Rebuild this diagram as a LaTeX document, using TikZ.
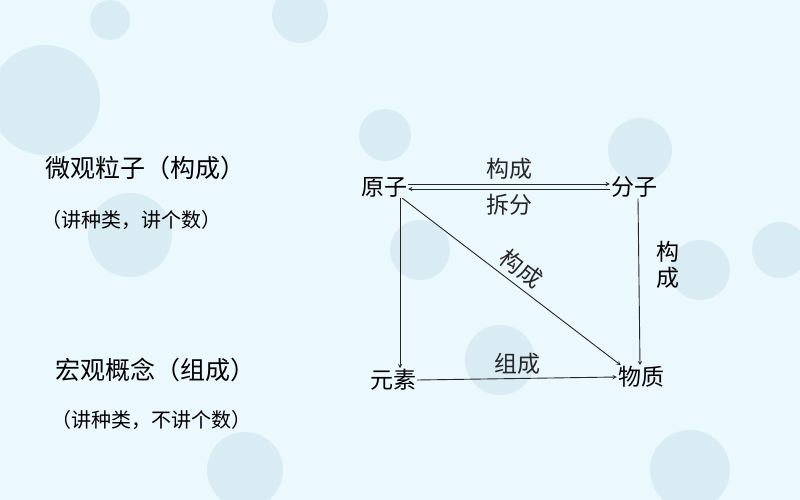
\documentclass[tikz,border=0pt]{standalone}
\usepackage{fontspec}
\setmainfont{Noto Sans CJK SC}
\begin{document}
\begin{tikzpicture}[x=1pt,y=-1pt,
 lab/.style={font=\fontsize{23}{26}\selectfont,inner sep=1pt},
 side/.style={font=\fontsize{25}{28}\selectfont,anchor=west},
 sub/.style={font=\fontsize{20}{23}\selectfont,anchor=west},
 arr/.style={-stealth,line width=0.9pt,black!85},
 bub/.style={fill=cyan!30!teal!25,opacity=0.45}]
\fill[cyan!8!white] (0,0) rectangle (800,500);
\useasboundingbox (0,0) rectangle (800,500);
\fill[bub] (45,100) circle (55);
\fill[bub] (130,235) circle (42);
\fill[bub] (385,135) circle (26);
\fill[bub] (300,15) circle (28);
\fill[bub] (640,150) circle (32);
\fill[bub] (420,250) circle (30);
\fill[bub] (700,270) circle (30);
\fill[bub] (780,250) circle (28);
\fill[bub] (500,360) circle (35);
\fill[bub] (245,470) circle (38);
\fill[bub] (690,470) circle (40);
\fill[bub] (110,20) circle (20);
\node[side] (t1) at (42,168) {微观粒子（构成）};
\node[sub] (t2) at (38,220) {（讲种类，讲个数）};
\node[side] (t3) at (52,370) {宏观概念（组成）};
\node[sub] (t4) at (48,420) {（讲种类，不讲个数）};
\node[lab] (yz) at (384,187) {原子};
\node[lab] (fz) at (634,187) {分子};
\node[lab] (ys) at (393,380) {元素};
\node[lab] (wz) at (641,377) {物质};
\draw[arr] ([yshift=3pt]yz.east) -- ([yshift=3pt]fz.west) node[midway,above=3pt,lab]{构成};
\draw[arr] ([yshift=-2pt]fz.west) -- ([yshift=-2pt]yz.east) node[midway,below=4pt,lab]{拆分};
\draw[arr] ([xshift=16pt]yz.south) -- ([xshift=7pt]ys.north);
\draw[arr] ([xshift=4pt]fz.south) -- ([xshift=-1pt]wz.north);
\node[lab,align=center] (gc) at (668,265) {构\\成};
\draw[arr] ([xshift=-6pt]yz.south east) -- ([xshift=4pt]wz.north west) node[pos=0.5,sloped,above=4pt,lab]{构成};
\draw[arr] (ys.east) -- (wz.west) node[midway,above=3pt,lab]{组成};
\end{tikzpicture}
\end{document}
